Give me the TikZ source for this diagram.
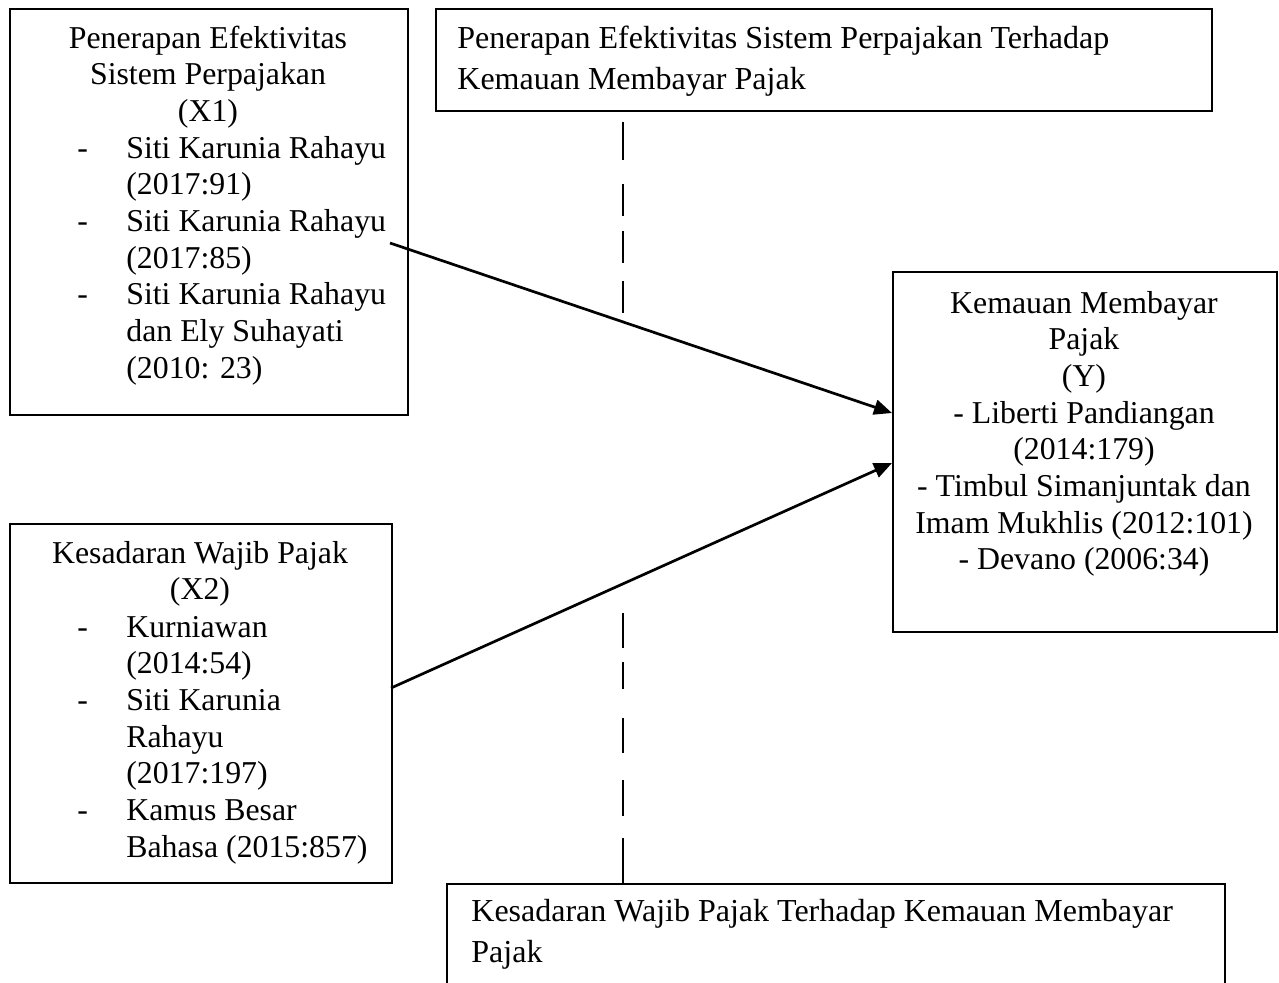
\documentclass[tikz,border=0pt]{standalone}
\usepackage{fontspec}
\setmainfont{Liberation Serif}
\usepackage{array}
\usetikzlibrary{arrows.meta,calc}
\tikzset{
  box/.style={draw, line width=1pt, inner sep=0pt, anchor=north west},
  txt/.style={inner sep=0pt, anchor=base, font=\fontsize{15.9}{18.35}\selectfont},
  widetxt/.style={inner sep=0pt, anchor=base west, font=\fontsize{16}{20.5}\selectfont},
  link/.style={line width=1.35pt, -{Triangle[length=9pt,width=7.5pt]}},
  dashline/.style={line width=1pt},
}
\begin{document}
\begin{tikzpicture}[x=0.5pt,y=-0.5pt]
\fill[white] (0,0) rectangle (1279,982);
\clip (0,0) rectangle (1279,982);
% boxes
\node[box, minimum width=199pt, minimum height=203pt] (x1) at (9,8) {};
\node[box, minimum width=388pt, minimum height=51pt] (top) at (435,8) {};
\node[box, minimum width=192pt, minimum height=180pt] (y) at (892,271) {};
\node[box, minimum width=191pt, minimum height=179.5pt] (x2) at (9,523) {};
\node[box, minimum width=389pt, minimum height=100pt] (bot) at (446,883) {};
% texts
\node[txt] (x1h) at (208,48) {\begin{tabular}[t]{@{}c@{}}Penerapan Efektivitas\\Sistem Perpajakan\\(X1)\end{tabular}};
\node[txt, anchor=base west] (x1l) at (77,158) {\begin{tabular}[t]{@{}p{24.5pt}@{}l@{}}-&Siti Karunia Rahayu\\&(2017:91)\\-&Siti Karunia Rahayu\\&(2017:85)\\-&Siti Karunia Rahayu\\&dan Ely Suhayati\\&(2010: 23)\end{tabular}};
\node[txt] (x2h) at (200,563) {\begin{tabular}[t]{@{}c@{}}Kesadaran Wajib Pajak\\(X2)\end{tabular}};
\node[txt, anchor=base west] (x2l) at (77,637) {\begin{tabular}[t]{@{}p{24.5pt}@{}l@{}}-&Kurniawan\\&(2014:54)\\-&Siti Karunia\\&Rahayu\\&(2017:197)\\-&Kamus Besar\\&Bahasa (2015:857)\end{tabular}};
\node[txt] (yt) at (1084,313) {\begin{tabular}[t]{@{}c@{}}Kemauan Membayar\\Pajak\\(Y)\\- Liberti Pandiangan\\(2014:179)\\- Timbul Simanjuntak dan\\Imam Mukhlis (2012:101)\\- Devano (2006:34)\end{tabular}};
\node[widetxt] (topt) at (457,48) {\begin{tabular}[t]{@{}l@{}}Penerapan Efektivitas Sistem Perpajakan Terhadap\\Kemauan Membayar Pajak\end{tabular}};
\node[widetxt] (bott) at (471,921) {\begin{tabular}[t]{@{}l@{}}Kesadaran Wajib Pajak Terhadap Kemauan Membayar\\Pajak\end{tabular}};
% arrows
\coordinate (a1s) at (390,243);
\coordinate (a1e) at (892,413);
\coordinate (a2s) at (391,688);
\coordinate (a2e) at (892,463);
\draw[link] (a1s) -- (a1e);
\draw[link] (a2s) -- (a2e);
% dashed lines
\draw[dashline] (623,122)--(623,160) (623,184)--(623,216) (623,231)--(623,263) (623,281)--(623,313);
\draw[dashline] (623,613)--(623,648) (623,662)--(623,689) (623,718)--(623,753) (623,780)--(623,816) (623,838)--(623,883);
\end{tikzpicture}
\end{document}
